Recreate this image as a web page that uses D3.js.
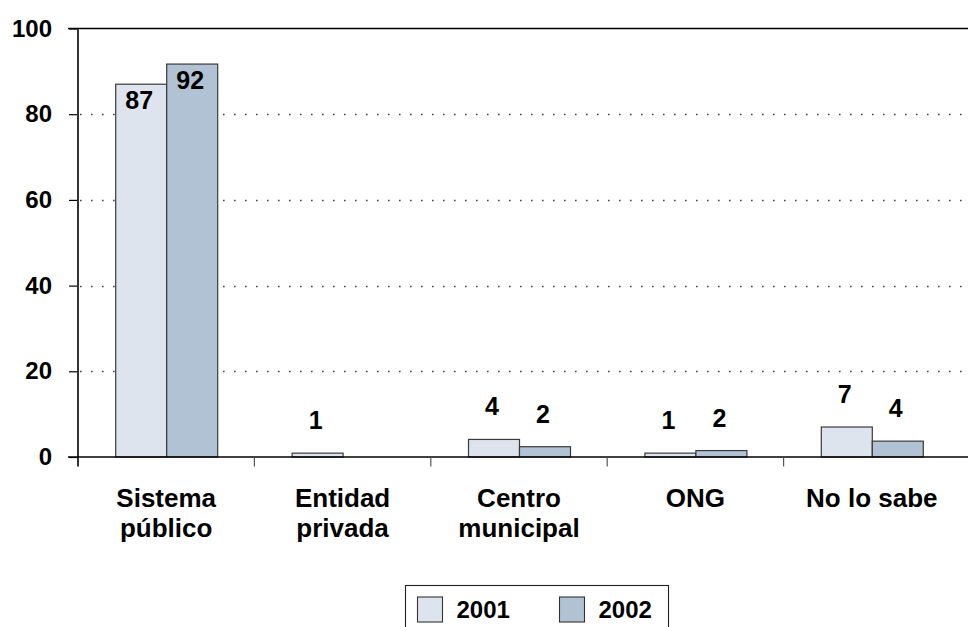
<!DOCTYPE html>
<html>
<head>
<meta charset="utf-8">
<script src="https://cdn.jsdelivr.net/npm/d3@7"></script>
<style>
  html, body { margin: 0; padding: 0; background: #fff; }
  svg { display: block; }
  text { font-family: "Liberation Sans", Arial, sans-serif; font-weight: bold; fill: #000; }
</style>
</head>
<body>
<svg id="chart" width="968" height="627"></svg>
<script>
// Categories (each label broken into display lines)
const categories = [
  ["Sistema", "público"],
  ["Entidad", "privada"],
  ["Centro", "municipal"],
  ["ONG"],
  ["No lo sabe"]
];
const seriesNames = ["2001", "2002"];
const values2001 = [87, 0.9, 4.1, 0.9, 7.0];
const values2002 = [91.7, 0, 2.4, 1.5, 3.7];
const yTicks = [0, 20, 40, 60, 80, 100];
const colors = ["#dee4ed", "#b0c2d3"];

const svg = d3.select("#chart");
const W = 968, H = 627;
const plot = { left: 78, right: 960, top: 28.5, bottom: 457 };

const keys = categories.map((c, i) => i);
const x = d3.scaleBand().domain(keys).range([plot.left, plot.right]).padding(0);
const groupW = 102;
const x1 = d3.scaleBand().domain(seriesNames).range([0, groupW]).padding(0);
const y = d3.scaleLinear().domain([0, 100]).range([plot.bottom, plot.top]);

// dotted gridlines
svg.append("g").selectAll("line")
  .data(yTicks.filter(t => t > 0 && t < 100))
  .join("line")
  .attr("x1", plot.left + 2).attr("x2", W)
  .attr("y1", d => Math.round(y(d)) + 0.5).attr("y2", d => Math.round(y(d)) + 0.5)
  .attr("stroke", "#444").attr("stroke-width", 1.3)
  .attr("stroke-dasharray", "1.6 9.4");

// top border of the plot area
svg.append("line")
  .attr("x1", 68).attr("x2", W)
  .attr("y1", y(100)).attr("y2", y(100))
  .attr("stroke", "#000").attr("stroke-width", 1.4);

// bars
const series = [values2001, values2002];
const gBars = svg.append("g");
series.forEach((vals, si) => {
  gBars.selectAll(null)
    .data(vals.map((v, i) => ({ v, i })).filter(d => d.v > 0))
    .join("rect")
    .attr("x", d => x(d.i) + x.bandwidth() / 2 - groupW / 2 + x1(seriesNames[si]) + 0.5)
    .attr("y", d => y(d.v))
    .attr("width", x1.bandwidth())
    .attr("height", d => y(0) - y(d.v))
    .attr("fill", colors[si])
    .attr("stroke", "#3a3a3a")
    .attr("stroke-width", 1.2);
});

// y axis
const yAxis = d3.axisLeft(y).tickValues(yTicks).tickSize(9).tickPadding(17).tickFormat(d3.format("d"));
const gy = svg.append("g").attr("transform", `translate(${plot.left},0)`).call(yAxis);
gy.select(".domain").remove();
gy.selectAll(".tick line").attr("stroke", "#000").attr("stroke-width", 1.2);
gy.selectAll(".tick text")
  .attr("font-size", 24)
  .attr("font-family", "Liberation Sans, Arial, sans-serif")
  .attr("font-weight", "bold").attr("fill", "#000");
svg.append("line")
  .attr("x1", plot.left).attr("x2", plot.left)
  .attr("y1", y(100)).attr("y2", y(0) + 9.5)
  .attr("stroke", "#333").attr("stroke-width", 2);

// x axis baseline and category separators
svg.append("line")
  .attr("x1", 68).attr("x2", W)
  .attr("y1", y(0)).attr("y2", y(0))
  .attr("stroke", "#000").attr("stroke-width", 1.6);
svg.append("g").selectAll("line")
  .data(keys.slice(1))
  .join("line")
  .attr("x1", d => x(d)).attr("x2", d => x(d))
  .attr("y1", y(0)).attr("y2", y(0) + 9.5)
  .attr("stroke", "#555").attr("stroke-width", 1.2);

// category labels, one text element per line
const gLab = svg.append("g");
categories.forEach((lines, i) => {
  lines.forEach((ln, k) => {
    gLab.append("text")
      .attr("text-anchor", "middle")
      .attr("font-size", 26)
      .attr("x", x(i) + x.bandwidth() / 2)
      .attr("y", 507 + k * 30)
      .text(ln);
  });
});

// value labels
const fmt = v => String(Math.round(v));
series.forEach((vals, si) => {
  svg.append("g").selectAll("text")
    .data(vals.map((v, i) => ({ v, i })).filter(d => d.v > 0))
    .join("text")
    .attr("text-anchor", "middle")
    .attr("font-size", 25)
    .attr("x", d => x(d.i) + x.bandwidth() / 2 - groupW / 2 + x1(seriesNames[si]) + x1.bandwidth() / 2 - 1.5)
    .attr("y", d => d.v > 50 ? y(d.v) + 25 : y(d.v) - 24)
    .text(d => fmt(d.v));
});

// legend
const lg = svg.append("g").attr("transform", "translate(405.5,585.5)");
lg.append("rect").attr("width", 263).attr("height", 60)
  .attr("fill", "#fff").attr("stroke", "#222").attr("stroke-width", 1.1);
const legendX = [12, 154];
seriesNames.forEach((name, si) => {
  lg.append("rect")
    .attr("x", legendX[si]).attr("y", 11.5)
    .attr("width", 25).attr("height", 25)
    .attr("fill", colors[si]).attr("stroke", "#333").attr("stroke-width", 1.1);
  lg.append("text")
    .attr("x", legendX[si] + 39).attr("y", 32)
    .attr("font-size", 24)
    .text(name);
});
</script>
</body>
</html>
